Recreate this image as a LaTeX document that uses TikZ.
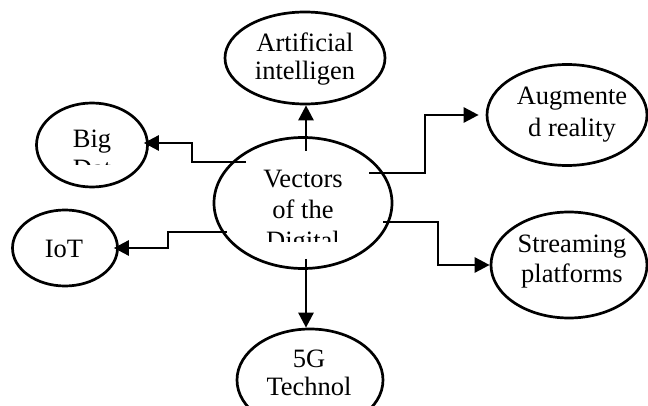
\documentclass[tikz,border=0pt]{standalone}
\usepackage{fontspec}
\setmainfont{Liberation Serif}
\usetikzlibrary{shapes.geometric,arrows.meta,calc}
\begin{document}
\begin{tikzpicture}[x=1pt,y=-1pt,
  oval/.style={draw,line width=2.7pt,shape=ellipse,inner sep=0pt},
  txt/.style={anchor=base,inner sep=0pt,font=\fontsize{26.5}{30}\selectfont},
  arr/.style={line width=2.7pt,-{Triangle[length=15pt,width=15pt]}}]
\useasboundingbox (0,0) rectangle (648,406);
% ellipses
\node[oval,minimum width=160pt,minimum height=92pt]  (ai)  at (305,58)  {};
\node[oval,minimum width=178pt,minimum height=131pt] (vec) at (303,203) {};
\node[oval,minimum width=111pt,minimum height=84pt]  (big) at (92,145)  {};
\node[oval,minimum width=105pt,minimum height=76pt]  (iot) at (65,248)  {};
\node[oval,minimum width=160pt,minimum height=101pt] (ar)  at (567,115) {};
\node[oval,minimum width=156pt,minimum height=106pt] (st)  at (569,265) {};
\node[oval,minimum width=146pt,minimum height=102pt] (g5)  at (310,380) {};
% texts
\node[txt] (ai1) at (305,52) {Artificial};
\node[txt] (ai2) at (305,80) {intelligen};
\node[txt] (v1) at (303,188) {Vectors};
\node[txt] (v2) at (303,219) {of the};
\begin{scope}
  \clip (215,225) rectangle (390,242);
  \node[txt] (v3) at (303,250) {Digital};
\end{scope}
\node[txt] (b1) at (92,148) {Big};
\begin{scope}
  \clip (40,152) rectangle (145,165);
  \node[txt] (b2) at (92,178) {Dat};
\end{scope}
\node[txt] (i1) at (64,258) {IoT};
\node[txt] (a1) at (572,105) {Augmente};
\node[txt] (a2) at (572,137) {d reality};
\node[txt] (s1) at (572,252) {Streaming};
\node[txt] (s2) at (572,282) {platforms};
\node[txt] (g1) at (309,367) {5G};
\node[txt] (g2) at (309,395) {Technol};
% connector start points
\coordinate (vt) at (306,151);
\coordinate (vb) at (306,259);
\coordinate (bl) at (246,162);
\coordinate (il) at (227,232);
\coordinate (ra) at (369,173);
\coordinate (rs) at (383,222);
% connectors
\draw[arr] (vt) -- (vt |- ai.south);
\draw[arr] (vb) -- (vb |- g5.north);
\draw[arr,shorten >=-5pt] (bl) -- ++(-54,0) |- ($(big.east)+(0,-2)$);
\draw[arr,shorten >=-5pt] (il) -- ++(-59,0) |- (iot.east);
\draw[arr,shorten >=7pt] (ra) -- ++(56,0) |- (ar.west);
\draw[arr] (rs) -- ++(55,0) |- (st.west);
\end{tikzpicture}
\end{document}
